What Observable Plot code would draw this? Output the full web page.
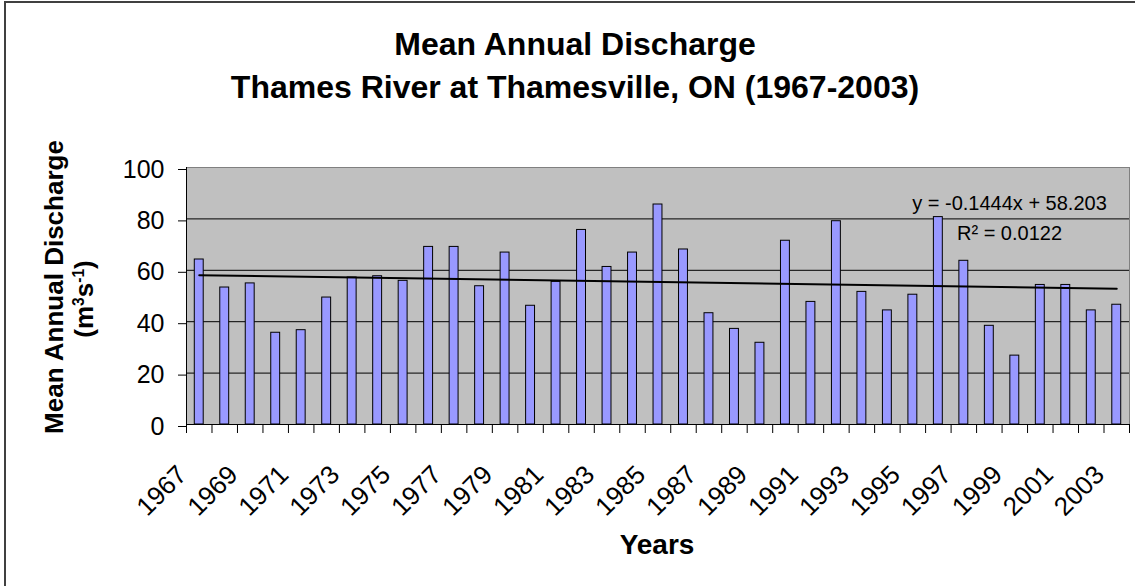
<!DOCTYPE html>
<html>
<head>
<meta charset="utf-8">
<script src="https://cdn.jsdelivr.net/npm/d3@7"></script>
<script src="https://cdn.jsdelivr.net/npm/@observablehq/plot@0.6"></script>
<style>
  html, body { margin: 0; padding: 0; background: #fff; }
  #chart { position: relative; width: 1135px; height: 586px; overflow: hidden; background: #fff;
           font-family: "Liberation Sans", Arial, sans-serif; color: #000; }
  #chart svg { position: absolute; left: 0; top: 0; }
  .border { position: absolute; left: 4px; top: 1px; width: 1300px; height: 800px;
            border: 2px solid #404040; box-sizing: border-box; pointer-events: none; }
  .title { position: absolute; left: 0; top: 23px; width: 1150px; text-align: center;
           font-weight: bold; font-size: 32px; line-height: 43px; }
  .ytitle { position: absolute; width: 420px; height: 30px; line-height: 30px; text-align: center;
            font-weight: bold; font-size: 26px; transform: rotate(-90deg); white-space: nowrap; }
  .ytitle sup { font-size: 0.6em; line-height: 0; vertical-align: 0.6em; }
  .xtitle { position: absolute; left: 457px; width: 400px; top: 527px; text-align: center;
            font-weight: bold; font-size: 28px; line-height: 36px; }
</style>
</head>
<body>
<div id="chart"></div>
<script>
// ---- data ----
const years = [1967, 1968, 1969, 1970, 1971, 1972, 1973, 1974, 1975, 1976,
               1977, 1978, 1979, 1980, 1981, 1982, 1983, 1984, 1985, 1986,
               1987, 1988, 1989, 1990, 1991, 1992, 1993, 1994, 1995, 1996,
               1997, 1998, 1999, 2000, 2001, 2002, 2003];
const discharge = [64.2, 53.3, 54.9, 35.7, 36.7, 49.4, 57.2, 57.7, 55.9, 69.1,
                   69.1, 53.8, 66.9, 46.2, 55.5, 75.7, 61.3, 66.9, 85.6, 68.1,
                   43.3, 37.2, 31.8, 71.5, 47.7, 79.1, 51.6, 44.4, 50.5, 80.7,
                   63.7, 38.4, 26.8, 54.3, 54.3, 44.4, 46.6];
const yTicks = [0, 20, 40, 60, 80, 100];
const labelYears = [1967, 1969, 1971, 1973, 1975, 1977, 1979, 1981, 1983, 1985,
                    1987, 1989, 1991, 1993, 1995, 1997, 1999, 2001, 2003];
// linear trend shown on the chart: y = slope * n + intercept, n = 1..37
const trendSlope = -0.1444;
const trendIntercept = 58.203;
const trendLabel = "y = -0.1444x + 58.203";
const r2Label = "R\u00B2 = 0.0122";

// ---- derived tables ----
const data = years.map((year, i) => ({year, value: discharge[i]}));
const firstYear = years[0], lastYear = years[years.length - 1];
const trend = [firstYear, lastYear].map(year => ({year, value: trendSlope * (year - firstYear + 1) + trendIntercept}));
const xDomain = [firstYear - 0.5, lastYear + 0.5];
const categoryEdges = years.map(y => y - 0.5).concat([lastYear + 0.5]);
const barHalf = 0.175;

const plot = Plot.plot({
  width: 1135,
  height: 586,
  marginLeft: 186,
  marginRight: 6,
  marginTop: 167,
  marginBottom: 162,
  style: {fontFamily: '"Liberation Sans", Arial, sans-serif', background: "transparent", color: "#000", overflow: "visible"},
  x: {type: "linear", domain: xDomain},
  y: {domain: [0, 100]},
  marks: [
    Plot.frame({fill: "#c0c0c0", stroke: "#808080"}),
    Plot.gridY(yTicks.slice(1, -1), {stroke: "#000", strokeOpacity: 1}),
    Plot.rectY(data, {x1: d => d.year - barHalf, x2: d => d.year + barHalf, y: "value",
                      fill: "#9999ff", stroke: "#000", strokeWidth: 1}),
    Plot.line(trend, {x: "year", y: "value", stroke: "#000", strokeWidth: 2}),
    Plot.ruleY([0], {stroke: "#000"}),
    Plot.ruleX([xDomain[0]], {stroke: "#000"}),
    Plot.axisY({ticks: yTicks, tickSize: 8, tickPadding: 14, fontSize: 25, dy: 2, label: null, stroke: "#000"}),
    Plot.axisX({ticks: categoryEdges, tickFormat: () => "", tickSize: 9, label: null, stroke: "#000"}),
    Plot.axisX({ticks: labelYears, tickFormat: d => String(d), tickSize: 0, tickRotate: -45,
                tickPadding: 46, dx: -17, fontSize: 26, label: null}),
    Plot.text([trendLabel], {text: d => d, frameAnchor: "top-right", dx: -120, dy: 42,
                             textAnchor: "middle", lineAnchor: "bottom", fontSize: 20}),
    Plot.text([r2Label], {text: d => d, frameAnchor: "top-right", dx: -120, dy: 72,
                          textAnchor: "middle", lineAnchor: "bottom", fontSize: 20})
  ]
});

const chart = document.getElementById("chart");
chart.appendChild(plot);

const border = document.createElement("div");
border.className = "border";
chart.appendChild(border);

const title = document.createElement("div");
title.className = "title";
title.innerHTML = "Mean Annual Discharge<br>Thames River at Thamesville, ON (1967-2003)";
chart.appendChild(title);

function yTitle(html, cx, cy) {
  const el = document.createElement("div");
  el.className = "ytitle";
  el.innerHTML = html;
  el.style.left = (cx - 210) + "px";
  el.style.top = (cy - 15) + "px";
  chart.appendChild(el);
}
yTitle("Mean Annual Discharge", 54, 287);
yTitle("(m<sup>3</sup>s<sup>-1</sup>)", 83.5, 299);

const xt = document.createElement("div");
xt.className = "xtitle";
xt.textContent = "Years";
chart.appendChild(xt);
</script>
</body>
</html>
